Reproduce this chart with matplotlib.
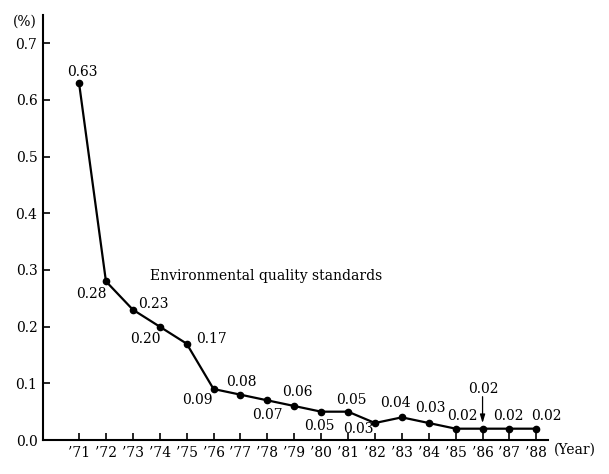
import matplotlib.pyplot as plt

plt.rcParams['font.family'] = ['DejaVu Serif']

# Data
years = [71, 72, 73, 74, 75, 76, 77, 78, 79, 80, 81, 82, 83, 84, 85, 86, 87, 88]
values = [0.63, 0.28, 0.23, 0.20, 0.17, 0.09, 0.08, 0.07, 0.06,
          0.05, 0.05, 0.03, 0.04, 0.03, 0.02, 0.02, 0.02, 0.02]
value_labels = ['0.63', '0.28', '0.23', '0.20', '0.17', '0.09', '0.08', '0.07', '0.06',
                '0.05', '0.05', '0.03', '0.04', '0.03', '0.02', '0.02', '0.02', '0.02']
tick_labels = ['\u2019%d' % y for y in years]
y_ticks = [0.0, 0.1, 0.2, 0.3, 0.4, 0.5, 0.6, 0.7]

# label offsets in pixels (dx, dy)
offsets = [(3, 11), (-15, -13), (21, 6), (-14, -12), (25, 5), (-16, -11), (1, 13),
           (0, -15), (3, 14), (-2, -14), (3, 12), (-17, -6), (-6, 14), (2, 15),
           (7, 13), (1, 40), (-1, 13), (10, 13)]

fig = plt.figure(figsize=(6.09, 4.74), dpi=100)
ax = fig.add_axes([0.0706, 0.0717, 0.830, 0.8967])

ax.plot(years, values, color='black', lw=1.6, marker='o', markersize=4.5)

for x, v, lab, (dx, dy) in zip(years, values, value_labels, offsets):
    ax.annotate(lab, xy=(x, v), xytext=(dx, dy), textcoords='offset pixels',
                ha='center', va='center', fontsize=10)

# arrow at '86
ax.annotate('', xy=(86, values[15]), xytext=(0, 32), textcoords='offset pixels',
            arrowprops=dict(arrowstyle='-|>,head_width=0.15,head_length=0.5',
                            lw=0.9, color='black', shrinkA=0, shrinkB=4))

ax.text(73.64, 0.29, 'Environmental quality standards', ha='left', va='center', fontsize=10)

ax.set_xlim(69.66, 88.45)
ax.set_ylim(0, 0.75)
ax.set_xticks(years)
ax.set_xticklabels(tick_labels, fontsize=10)
ax.set_yticks(y_ticks)
ax.set_yticklabels(['%.1f' % t for t in y_ticks], fontsize=10)
ax.tick_params(direction='in', length=5, width=1.2, pad=4)

for side in ['top', 'right']:
    ax.spines[side].set_visible(False)
for side in ['left', 'bottom']:
    ax.spines[side].set_linewidth(1.5)

fig.text(0.944, 0.0506, '(Year)', ha='center', va='center', fontsize=10)
fig.text(0.041, 0.954, '(%)', ha='center', va='center', fontsize=10)

plt.savefig('out.png', dpi=100)
